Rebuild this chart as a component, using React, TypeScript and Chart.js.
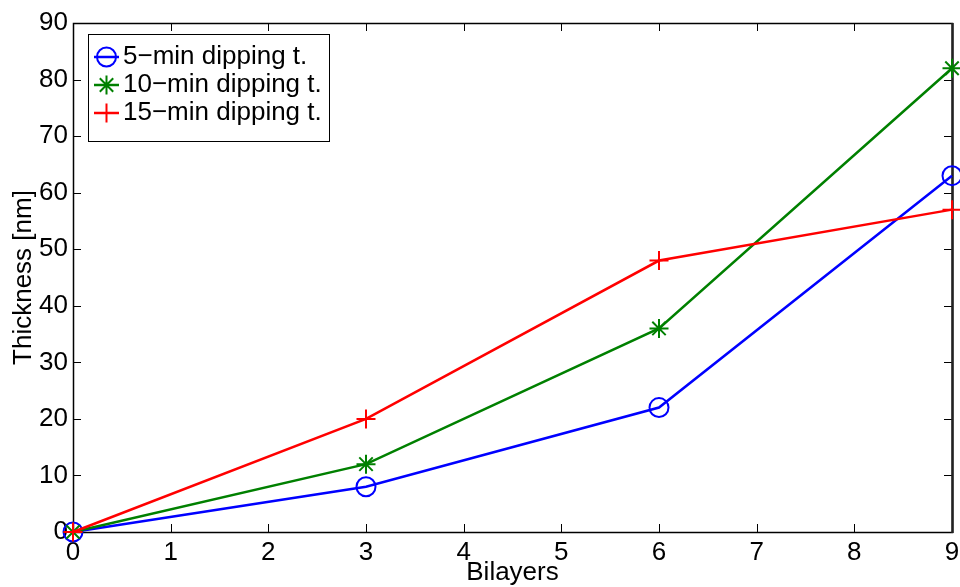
import React, { useEffect, useRef } from "react";
import { Chart, registerables } from "chart.js";

Chart.register(...registerables);

const bilayers = [0, 3, 6, 9];
const fiveMin = [0, 8, 22, 63];
const tenMin = [0, 12, 36, 82];
const fifteenMin = [0, 20, 48, 57];
const seriesLabels = ["5\u2212min dipping t.", "10\u2212min dipping t.", "15\u2212min dipping t."];
const seriesColors = ["#0000FF", "#008000", "#FF0000"];
const seriesMarkers = ["circle", "star", "cross"];
const xTicks = [0, 1, 2, 3, 4, 5, 6, 7, 8, 9];
const yTicks = [0, 10, 20, 30, 40, 50, 60, 70, 80, 90];

const FONT = "'Liberation Sans', Arial, Helvetica, sans-serif";
const FS = 26;

function drawMarker(ctx: CanvasRenderingContext2D, style: string, x: number, y: number, r: number, color: string) {
  ctx.save();
  ctx.strokeStyle = color;
  ctx.lineWidth = 2;
  ctx.beginPath();
  if (style === "circle") {
    ctx.arc(x, y, r, 0, Math.PI * 2);
  } else if (style === "cross") {
    ctx.moveTo(x - r, y); ctx.lineTo(x + r, y);
    ctx.moveTo(x, y - r); ctx.lineTo(x, y + r);
  } else {
    const d = r * Math.SQRT1_2;
    ctx.moveTo(x - r, y); ctx.lineTo(x + r, y);
    ctx.moveTo(x, y - r); ctx.lineTo(x, y + r);
    ctx.moveTo(x - d, y - d); ctx.lineTo(x + d, y + d);
    ctx.moveTo(x - d, y + d); ctx.lineTo(x + d, y - d);
  }
  ctx.stroke();
  ctx.restore();
}

const framePlugin = {
  id: "matlabFrame",
  beforeDatasetsDraw(chart: any) {
    const { ctx, chartArea } = chart;
    const { left, right, top, bottom } = chartArea;
    const xs = chart.scales.x;
    const ys = chart.scales.y;
    const tl = 8;
    ctx.save();
    ctx.strokeStyle = "#000";
    ctx.lineWidth = 1;
    ctx.beginPath();
    xTicks.forEach((v) => {
      const px = Math.round(xs.getPixelForValue(v)) + 0.5;
      ctx.moveTo(px, bottom); ctx.lineTo(px, bottom - tl);
      ctx.moveTo(px, top); ctx.lineTo(px, top + tl);
    });
    yTicks.forEach((v) => {
      const py = Math.round(ys.getPixelForValue(v)) + 0.5;
      ctx.moveTo(left, py); ctx.lineTo(left + tl, py);
      ctx.moveTo(right, py); ctx.lineTo(right - tl, py);
    });
    ctx.stroke();
    ctx.lineWidth = 1.5;
    ctx.strokeRect(Math.round(left) + 0.5, Math.round(top) + 0.5, Math.round(right - left), Math.round(bottom - top));
    ctx.lineWidth = 2.5;
    ctx.strokeStyle = "#222";
    ctx.beginPath();
    ctx.moveTo(Math.round(right) + 0.5, top);
    ctx.lineTo(Math.round(right) + 0.5, bottom + 1);
    ctx.stroke();
    ctx.restore();
  },
  afterDraw(chart: any) {
    const { ctx } = chart;
    const bx = 88, by = 34, bw = 241, bh = 107;
    ctx.save();
    ctx.fillStyle = "#fff";
    ctx.fillRect(bx, by, bw, bh);
    ctx.strokeStyle = "#000";
    ctx.lineWidth = 1;
    ctx.strokeRect(bx + 0.5, by + 0.5, bw, bh);
    chart.data.datasets.forEach((ds: any, i: number) => {
      const cy = by + 23 + i * 28;
      ctx.strokeStyle = ds.borderColor;
      ctx.lineWidth = 2.5;
      ctx.beginPath();
      ctx.moveTo(bx + 6, cy);
      ctx.lineTo(bx + 31, cy);
      ctx.stroke();
      drawMarker(ctx, seriesMarkers[i], bx + 18.5, cy, 9.5, ds.borderColor);
      ctx.fillStyle = "#000";
      ctx.font = `${FS}px ${FONT}`;
      ctx.textBaseline = "middle";
      ctx.textAlign = "left";
      ctx.fillText(ds.label, bx + 35, cy);
    });
    ctx.restore();
  },
};

export default function App() {
  const ref = useRef<HTMLCanvasElement>(null);
  useEffect(() => {
    if (!ref.current) return;
    const seriesData = [fiveMin, tenMin, fifteenMin];
    const chart = new Chart(ref.current, {
      type: "line",
      data: {
        datasets: seriesData.map((vals, i) => ({
          label: seriesLabels[i],
          data: bilayers.map((b, j) => ({ x: b, y: vals[j] })),
          borderColor: seriesColors[i],
          backgroundColor: "rgba(0,0,0,0)",
          borderWidth: 2.5,
          pointStyle: seriesMarkers[i] as any,
          pointRadius: 9.5,
          pointBorderWidth: 2,
          pointBorderColor: seriesColors[i],
          pointBackgroundColor: "rgba(0,0,0,0)",
          tension: 0,
          clip: false as any,
          order: 3 - i,
        })),
      },
      options: {
        animation: false,
        responsive: false,
        devicePixelRatio: 1,
        layout: { autoPadding: false, padding: { top: 23, right: 8, left: 0, bottom: 0 } },
        plugins: { legend: { display: false }, tooltip: { enabled: false } },
        scales: {
          x: {
            type: "linear",
            min: 0,
            max: 9,
            afterFit: (s: any) => { s.height = 55; s.paddingLeft = 0; s.paddingRight = 0; },
            afterBuildTicks: (s: any) => { s.ticks = xTicks.map((v) => ({ value: v })); },
            grid: { display: false, drawTicks: false },
            border: { display: false },
            ticks: { color: "#000", font: { family: FONT, size: FS }, padding: 5, maxRotation: 0, autoSkip: false },
            title: { display: true, text: "Bilayers", color: "#000", font: { family: FONT, size: FS, lineHeight: 1.1 }, padding: { top: 0, bottom: 0 } },
          },
          y: {
            type: "linear",
            min: 0,
            max: 90,
            afterFit: (s: any) => { s.width = 73; s.paddingTop = 0; s.paddingBottom = 0; },
            afterBuildTicks: (s: any) => { s.ticks = yTicks.map((v) => ({ value: v })); },
            grid: { display: false, drawTicks: false },
            border: { display: false },
            ticks: { color: "#000", font: { family: FONT, size: FS }, padding: 5, autoSkip: false },
            title: { display: true, text: "Thickness [nm]", color: "#000", font: { family: FONT, size: FS }, padding: { top: 8, bottom: 0 } },
          },
        },
      },
      plugins: [framePlugin],
    });
    return () => chart.destroy();
  }, []);
  return (
    <div style={{ position: "absolute", left: 0, top: 0, width: 960, height: 587, background: "#fff" }}>
      <canvas ref={ref} width={960} height={587} style={{ display: "block" }} />
    </div>
  );
}
